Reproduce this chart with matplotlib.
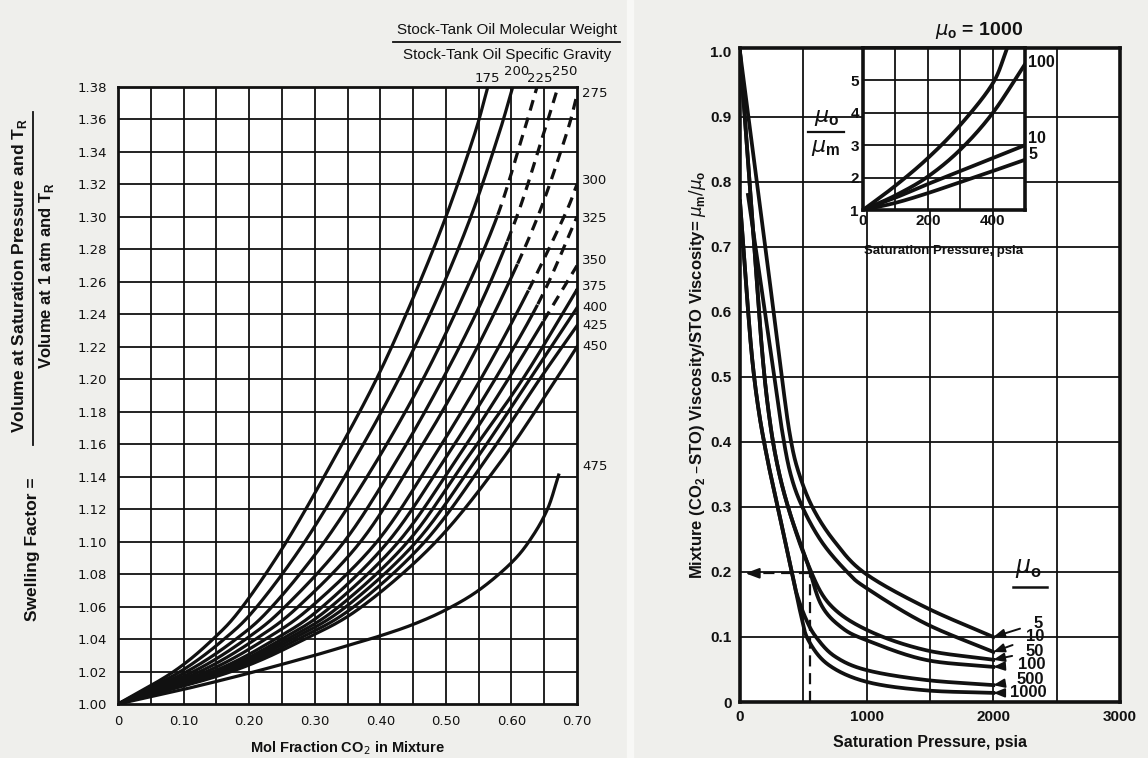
import numpy as np
import matplotlib
matplotlib.use("Agg")
import matplotlib.pyplot as plt

plt.rcParams['font.family'] = ['Liberation Sans', 'DejaVu Sans']

# ---------------- swelling factor chart data ----------------
# each curve: mol fraction CO2 at which the swelling factor reaches the levels below
mw_labels = ["175", "200", "225", "250", "275", "300", "325", "350",
             "375", "400", "425", "450"]
sf_levels = [1.00, 1.02, 1.04, 1.06, 1.10, 1.15, 1.20, 1.25, 1.30, 1.35, 1.38]
xf_175 = [0.0, 0.085, 0.145, 0.190, 0.257, 0.328, 0.394, 0.450, 0.500, 0.543, 0.564]
xf_200 = [0.0, 0.095, 0.162, 0.212, 0.285, 0.360, 0.428, 0.487, 0.538, 0.580, 0.602]
xf_225 = [0.0, 0.105, 0.180, 0.235, 0.315, 0.395, 0.465, 0.525, 0.578, 0.617, 0.639]
xf_250 = [0.0, 0.115, 0.195, 0.255, 0.345, 0.425, 0.495, 0.557, 0.608, 0.648, 0.671]
xf_275 = [0.0, 0.125, 0.210, 0.275, 0.370, 0.450, 0.522, 0.585, 0.640, 0.683]
xf_300 = [0.0, 0.135, 0.225, 0.295, 0.395, 0.478, 0.553, 0.620, 0.680]
xf_325 = [0.0, 0.145, 0.240, 0.312, 0.412, 0.497, 0.575, 0.645]
xf_350 = [0.0, 0.152, 0.250, 0.325, 0.428, 0.515, 0.595, 0.670]
xf_375 = [0.0, 0.158, 0.258, 0.337, 0.442, 0.530, 0.617, 0.692]
xf_400 = [0.0, 0.163, 0.266, 0.348, 0.455, 0.545, 0.628]
xf_425 = [0.0, 0.168, 0.275, 0.360, 0.468, 0.560, 0.643]
xf_450 = [0.0, 0.173, 0.285, 0.372, 0.485, 0.585, 0.668]
sf_curves = [xf_175, xf_200, xf_225, xf_250, xf_275, xf_300, xf_325,
             xf_350, xf_375, xf_400, xf_425, xf_450]
# where the curves leave through the right-hand border (x = 0.70)
sf_right_end = {"275": 1.375, "300": 1.320, "325": 1.300, "350": 1.270,
                "375": 1.255, "400": 1.244, "425": 1.233, "450": 1.220}
# the flattest oil, read as (x, y) pairs
x_475 = [0.0, 0.10, 0.20, 0.30, 0.35, 0.40, 0.45, 0.50, 0.55, 0.60, 0.63, 0.655, 0.672]
sf_475 = [1.0, 1.009, 1.019, 1.030, 1.036, 1.042, 1.049, 1.058, 1.070, 1.087, 1.102,
          1.120, 1.141]
# swelling factor above which a curve is drawn dashed
sf_dash_from = {"225": 1.30, "250": 1.285, "275": 1.27, "300": 1.255,
                "325": 1.245, "350": 1.235}

mw_label_pos = {"175": (0.5625, 1.3855), "200": (0.608, 1.3895), "225": (0.643, 1.3850),
                "250": (0.681, 1.3895), "275": (0.727, 1.3760), "300": (0.727, 1.3227),
                "325": (0.727, 1.2990), "350": (0.727, 1.2730), "375": (0.727, 1.2570),
                "400": (0.727, 1.2440), "425": (0.727, 1.2330), "450": (0.727, 1.2200),
                "475": (0.727, 1.1460)}

# ---------------- viscosity chart data ----------------
mu_labels = ["5", "10", "50", "100", "500", "1000"]
vr_p_5 = [0, 200, 330, 395, 460, 576, 750, 987, 1461, 2000]
vr_5 = [1.0, 0.700, 0.500, 0.410, 0.355, 0.298, 0.246, 0.198, 0.146, 0.100]
vr_p_10 = [63, 160, 260, 330, 400, 497, 650, 846, 1000, 1461, 2000]
vr_10 = [0.780, 0.650, 0.515, 0.420, 0.350, 0.298, 0.245, 0.200, 0.175, 0.121, 0.077]
vr_p_50 = [0, 90, 170, 230, 300, 395, 530, 700, 1000, 1461, 2000]
vr_50 = [1.0, 0.760, 0.550, 0.440, 0.360, 0.290, 0.215, 0.152, 0.111, 0.080, 0.065]
vr_p_100 = [0, 90, 170, 230, 300, 395, 530, 640, 800, 1000, 1461, 2000]
vr_100 = [1.0, 0.760, 0.550, 0.440, 0.360, 0.290, 0.215, 0.150, 0.115, 0.095, 0.065, 0.054]
vr_p_500 = [0, 45, 95, 150, 220, 300, 411, 450, 520, 600, 750, 1000, 1461, 2000]
vr_500 = [0.770, 0.650, 0.530, 0.445, 0.370, 0.298, 0.198, 0.165, 0.128, 0.100,
          0.070, 0.049, 0.034, 0.026]
vr_p_1000 = [0, 45, 95, 150, 220, 300, 411, 480, 540, 700, 1000, 1461, 2000]
vr_1000 = [0.770, 0.650, 0.530, 0.445, 0.370, 0.298, 0.198, 0.135, 0.095, 0.057,
           0.031, 0.018, 0.014]
vr_series = [(vr_p_5, vr_5), (vr_p_10, vr_10), (vr_p_50, vr_50),
             (vr_p_100, vr_100), (vr_p_500, vr_500), (vr_p_1000, vr_1000)]
mu_label_pos = [(2353, 0.1215), (2329, 0.100), (2329, 0.078),
                (2305, 0.058), (2290, 0.035), (2274, 0.014)]

# inset: mu_o / mu_m at low pressure
ins_p_1000 = [0, 100, 200, 300, 400, 445]
ins_1000 = [1.0, 1.75, 2.60, 3.62, 4.90, 6.0]
ins_p_100 = [0, 100, 200, 300, 400, 500]
ins_100 = [1.0, 1.45, 2.03, 2.86, 3.99, 5.50]
ins_p_10 = [0, 100, 200, 300, 400, 500]
ins_10 = [1.0, 1.38, 1.80, 2.20, 2.60, 3.00]
ins_p_5 = [0, 100, 200, 300, 400, 500]
ins_5 = [1.0, 1.22, 1.52, 1.86, 2.20, 2.55]
ins_series = [(ins_p_1000, ins_1000), (ins_p_100, ins_100),
              (ins_p_10, ins_10), (ins_p_5, ins_5)]


def smooth(xs, ys, n=40):
    """Catmull-Rom curve through the given points."""
    pts = np.column_stack([xs, ys]).astype(float)
    P = np.vstack([2 * pts[0] - pts[1], pts, 2 * pts[-1] - pts[-2]])
    out = []
    t = np.linspace(0, 1, n, endpoint=False)[:, None]
    for i in range(1, len(P) - 2):
        p0, p1, p2, p3 = P[i - 1], P[i], P[i + 1], P[i + 2]
        seg = 0.5 * (2 * p1 + (-p0 + p2) * t + (2 * p0 - 5 * p1 + 4 * p2 - p3) * t ** 2
                     + (-p0 + 3 * p1 - 3 * p2 + p3) * t ** 3)
        out.append(seg)
    out.append(pts[-1][None, :])
    c = np.vstack(out)
    return c[:, 0], c[:, 1]


INK = "#111111"
fig = plt.figure(figsize=(11.48, 7.58), dpi=100, facecolor="#efefec")
# thin paper gap between the two pages
fig.patches.append(plt.Rectangle((627 / 1148, 0), 6 / 1148, 1, transform=fig.transFigure,
                                 color="#f8f8f6", zorder=0))

# ================= left: swelling factor =================
axL = fig.add_axes([118 / 1148, 1 - 704 / 758, 459 / 1148, 617 / 758])
axL.set_facecolor("white")
axL.set_xlim(0, 0.70)
axL.set_ylim(1.00, 1.38)
for v in np.arange(0.05, 0.70, 0.05):
    axL.axvline(v, color=INK, lw=1.3, zorder=1)
for v in np.arange(1.02, 1.38, 0.02):
    axL.axhline(v, color=INK, lw=1.3, zorder=1)
for s in axL.spines.values():
    s.set_linewidth(2.0)
    s.set_color(INK)
axL.set_xticks(np.arange(0, 0.71, 0.10))
axL.set_xticklabels(["0"] + ["%.2f" % v for v in np.arange(0.10, 0.71, 0.10)])
axL.set_yticks(np.arange(1.00, 1.381, 0.02))
axL.set_yticklabels(["%.2f" % v for v in np.arange(1.00, 1.381, 0.02)])
axL.tick_params(length=0, labelsize=10, colors=INK, pad=8)
for t in axL.get_xticklabels() + axL.get_yticklabels():
    t.set_family("DejaVu Sans")
    t.set_fontsize(9.5)


def draw_sf(ax, cx, cy, lab):
    keep = cy <= 1.3805
    cx, cy = cx[keep], cy[keep]
    if lab in sf_dash_from:
        solid = cy <= sf_dash_from[lab]
        ax.plot(cx[solid], cy[solid], color=INK, lw=2.3, zorder=3)
        ax.plot(cx[~solid], cy[~solid], color=INK, lw=2.3, zorder=3,
                dashes=(3.4, 2.3), dash_capstyle="butt")
    else:
        ax.plot(cx, cy, color=INK, lw=2.3, zorder=3)


for lab, xs in zip(mw_labels, sf_curves):
    xs = list(xs)
    ys = list(sf_levels[:len(xs)])
    if lab in sf_right_end:
        xs.append(0.70)
        ys.append(sf_right_end[lab])
    cx, cy = smooth(xs, ys)
    draw_sf(axL, cx, cy, lab)
cx, cy = smooth(x_475, sf_475)
draw_sf(axL, cx, cy, "475")

for lab, (lx, ly) in mw_label_pos.items():
    axL.text(lx, ly, lab, fontsize=9.5, color=INK, ha="center", va="center",
             clip_on=False, family="DejaVu Sans")

axL.set_xlabel("Mol Fraction CO$_2$ in Mixture", fontsize=10.5, fontweight="bold",
               color=INK, labelpad=8)

# fraction label on the y axis
fig.text(33 / 1148, 1 - 549 / 758, "Swelling Factor =", rotation=90, ha="center",
         va="center", fontsize=12.5, fontweight="bold", color=INK)
fig.text(20 / 1148, 1 - 276 / 758, "Volume at Saturation Pressure and T$_\\mathregular{R}$",
         rotation=90, ha="center", va="center", fontsize=12.5, fontweight="bold", color=INK)
fig.add_artist(plt.Line2D([33 / 1148, 33 / 1148], [1 - 445 / 758, 1 - 112 / 758],
                          color=INK, lw=1.3))
fig.text(47 / 1148, 1 - 276 / 758, "Volume at 1 atm and T$_\\mathregular{R}$",
         rotation=90, ha="center", va="center", fontsize=12, fontweight="bold", color=INK)

# parameter caption
fig.text(507 / 1148, 1 - 30 / 758, "Stock-Tank Oil Molecular Weight", ha="center",
         va="center", fontsize=11, color=INK)
fig.add_artist(plt.Line2D([393 / 1148, 620 / 1148], [1 - 42 / 758, 1 - 42 / 758],
                          color=INK, lw=1.3))
fig.text(507 / 1148, 1 - 55 / 758, "Stock-Tank Oil Specific Gravity", ha="center",
         va="center", fontsize=11, color=INK)

# ================= right: viscosity ratio =================
axR = fig.add_axes([740 / 1148, 1 - 702 / 758, 380 / 1148, 654 / 758])
axR.set_facecolor("white")
axR.set_xlim(0, 3000)
axR.set_ylim(0, 1.006)
for v in np.arange(500, 3000, 500):
    axR.axvline(v, color=INK, lw=1.3, zorder=1)
for v in np.arange(0.1, 1.0, 0.1):
    axR.axhline(v, color=INK, lw=1.3, zorder=1)
for s in axR.spines.values():
    s.set_linewidth(2.6)
    s.set_color(INK)
axR.set_xticks([0, 1000, 2000, 3000])
axR.set_xticklabels(["0", "1000", "2000", "3000"])
axR.set_yticks(np.arange(0, 1.01, 0.1))
axR.set_yticklabels(["0"] + ["%.1f" % v for v in np.arange(0.1, 1.01, 0.1)])
axR.tick_params(length=0, labelsize=11, colors=INK, pad=6)
for t in axR.get_xticklabels() + axR.get_yticklabels():
    t.set_fontweight("bold")
axR.set_xlabel("Saturation Pressure, psia", fontsize=11.5, fontweight="bold",
               color=INK, labelpad=8)
axR.set_ylabel("Mixture (CO$_\\mathregular{2}$ \u2013STO) Viscosity/STO Viscosity= "
               "$\\mu_\\mathregular{m}/\\mu_\\mathregular{o}$",
               fontsize=12, fontweight="bold", color=INK, labelpad=2)

for (ps, vs), lab, (tx, ty) in zip(vr_series, mu_labels, mu_label_pos):
    cx, cy = smooth(ps, vs)
    axR.plot(cx, cy, color=INK, lw=2.7, zorder=3)
    axR.annotate(lab, xy=(ps[-1], vs[-1]), xytext=(tx, ty), fontsize=12,
                 fontweight="bold", color=INK, ha="center", va="center",
                 arrowprops=dict(arrowstyle="-|>,head_length=0.55,head_width=0.22",
                                 color=INK, lw=1.4, shrinkA=8, shrinkB=0))

axR.text(2274, 0.205, "$\\mu_\\mathregular{o}$", fontsize=17, fontweight="bold",
         color=INK, ha="center", va="center")
axR.plot([2155, 2424], [0.177, 0.177], color=INK, lw=1.8)

# worked example: dashed guide
axR.plot([553, 553], [0, 0.198], color=INK, lw=1.6, dashes=(5, 3))
axR.plot([553, 150], [0.198, 0.198], color=INK, lw=1.6, dashes=(5, 3))
axR.annotate("", xy=(20, 0.198), xytext=(160, 0.198),
             arrowprops=dict(arrowstyle="-|>,head_length=0.8,head_width=0.3",
                             color=INK, lw=1.6))

# ----- inset -----
axI = fig.add_axes([863 / 1148, 1 - 210 / 758, 162 / 1148, 162 / 758])
axI.set_facecolor("white")
axI.set_xlim(0, 500)
axI.set_ylim(1, 6)
for v in np.arange(100, 500, 100):
    axI.axvline(v, color=INK, lw=1.3, zorder=1)
for v in np.arange(2, 6, 1):
    axI.axhline(v, color=INK, lw=1.3, zorder=1)
for s in axI.spines.values():
    s.set_linewidth(2.6)
    s.set_color(INK)
axI.set_xticks([0, 200, 400])
axI.set_yticks([1, 2, 3, 4, 5])
axI.tick_params(length=0, labelsize=11, colors=INK, pad=3)
for t in axI.get_xticklabels() + axI.get_yticklabels():
    t.set_fontweight("bold")
for (ps, vs) in ins_series:
    cx, cy = smooth(ps, vs)
    keep = cy <= 6.0
    axI.plot(cx[keep], cy[keep], color=INK, lw=2.7, zorder=3)
axI.set_xlabel("Saturation Pressure, psia", fontsize=9.5, fontweight="bold",
               color=INK, labelpad=12)
axI.text(357, 6.55, "$\\mu_\\mathregular{o}$ = 1000", fontsize=14, fontweight="bold",
         color=INK, ha="center", va="center", clip_on=False)
axI.text(510, 5.55, "100", fontsize=11.5, fontweight="bold", color=INK, ha="left",
         va="center", clip_on=False)
axI.text(510, 3.2, "10", fontsize=11.5, fontweight="bold", color=INK, ha="left",
         va="center", clip_on=False)
axI.text(510, 2.72, "5", fontsize=11.5, fontweight="bold", color=INK, ha="left",
         va="center", clip_on=False)
axI.text(-111, 3.85, "$\\mu_\\mathregular{o}$", fontsize=16, fontweight="bold",
         color=INK, ha="center", va="center", clip_on=False)
axI.plot([-170, -60], [3.41, 3.41], color=INK, lw=1.6, clip_on=False)
axI.text(-115, 2.92, "$\\mu_\\mathregular{m}$", fontsize=16, fontweight="bold",
         color=INK, ha="center", va="center", clip_on=False)

fig.savefig("out.png", dpi=100, facecolor=fig.get_facecolor())
